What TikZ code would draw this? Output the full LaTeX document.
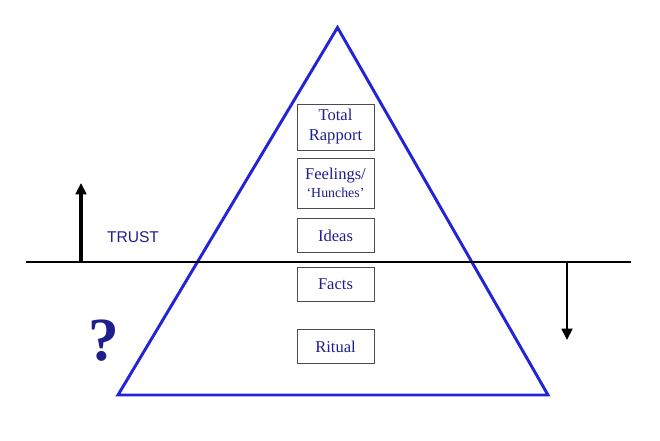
\documentclass[tikz,border=0pt]{standalone}
\usepackage{fontspec}
\setmainfont{Liberation Serif}
\setsansfont{Liberation Sans}
\usetikzlibrary{arrows.meta}
\definecolor{boxtext}{RGB}{30,30,140}
\definecolor{pyramid}{RGB}{35,35,215}

\begin{document}
\begin{tikzpicture}[
  x=0.75pt, y=-0.75pt,
  > = {Triangle[length=8.5pt,width=8pt]},
  level/.style = {draw=black!70, line width=0.6pt, minimum width=57.75pt, inner sep=1pt,
                  align=center, text=boxtext, font=\fontsize{12.4}{15}\selectfont},
  pyr/.style = {draw=pyramid, line width=2.2pt, line join=miter},
  trustarrow/.style = {->, line width=2.4pt}
  ]
	\useasboundingbox (0,0) rectangle (660,441);

	% pyramid
	\coordinate (top) at (337.5,27.5);
	\coordinate (bl) at (118,395);
	\coordinate (br) at (548,395);
	\draw[pyr] (top) -- (bl) -- (br) -- cycle;

	% waterline
	\coordinate (wl) at (26,262);
	\coordinate (wr) at (631,262);
	\draw[line width=1.6pt] (wl) -- (wr);

	% levels
	\node[level, minimum height=34.5pt] (rapport) at (335.5,127) {Total\\Rapport};
	\node[level, minimum height=37.5pt] (feelings) at (335.5,183)
		{Feelings/\\[-1pt]{\fontsize{10.4}{11}\selectfont `Hunches'}};
	\node[level, minimum height=26pt] (ideas) at (335.5,235.5) {Ideas};
	\node[level, minimum height=25.5pt] (facts) at (335.5,284) {Facts};
	\node[level, minimum height=26pt] (ritual) at (335.5,346.5) {Ritual};

	% arrows
	\coordinate (upfoot) at (81,262);
	\coordinate (uptip) at (81,183);
	\draw[trustarrow] (upfoot) -- (uptip);
	\coordinate (downfoot) at (567,262);
	\coordinate (downtip) at (567,340);
	\draw[trustarrow, line width=2pt] (downfoot) -- (downtip);

	\node[text=boxtext, font=\sffamily\fontsize{11.7}{13}\selectfont] (trust) at (133,237.5) {TRUST};
	\node[text=boxtext, font=\bfseries\fontsize{46}{50}\selectfont] (query) at (104,341) {?};

\end{tikzpicture}
\end{document}
